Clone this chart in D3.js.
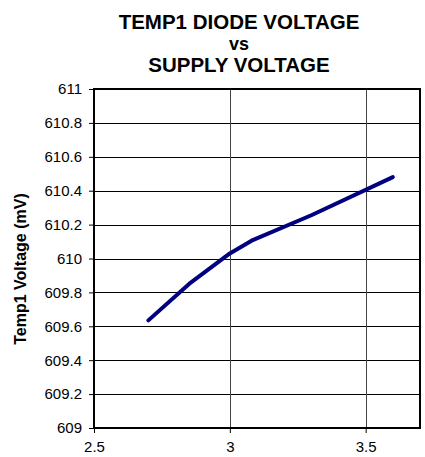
<!DOCTYPE html>
<html>
<head>
<meta charset="utf-8">
<script src="https://cdn.jsdelivr.net/npm/d3@7"></script>
<style>
  body { margin: 0; background: #fff; }
  svg { display: block; font-family: "Liberation Sans", Arial, sans-serif; }
</style>
</head>
<body>
<svg width="425" height="457"></svg>
<script>
// supply voltage (V) and diode voltage (mV)
var supply = [2.7, 2.85, 3.0, 3.08, 3.3, 3.6];
var diode = [609.635, 609.85, 610.03, 610.105, 610.255, 610.48];
var xTicks = [2.5, 3, 3.5];
var yTicks = [609, 609.2, 609.4, 609.6, 609.8, 610, 610.2, 610.4, 610.6, 610.8, 611];
var titleLines = ["TEMP1 DIODE VOLTAGE", "vs", "SUPPLY VOLTAGE"];

var svg = d3.select('svg');
// plot box (named so they don't clash with window.top)
var plotL = 94, plotR = 420, plotT = 89, plotB = 428;

var x = d3.scaleLinear().domain([2.5, 3.7]).range([plotL, plotR]);
var y = d3.scaleLinear().domain([609, 611]).range([plotB, plotT]);

// title
svg.selectAll('text.title').data(titleLines)
  .enter().append('text')
  .attr('class', 'title')
  .attr('x', 239)
  .attr('y', function(d, i) { return 29 + i * 21.3; })
  .attr('text-anchor', 'middle')
  .attr('font-weight', 'bold')
  .attr('font-size', function(d, i) { return i == 1 ? 18 : 20.5; })
  .text(function(d) { return d; });

// horizontal grid
svg.append('g').selectAll('line').data(yTicks)
  .enter().append('line')
  .attr('x1', plotL).attr('x2', plotR)
  .attr('y1', function(d) { return Math.round(y(d)) + 0.5; })
  .attr('y2', function(d) { return Math.round(y(d)) + 0.5; })
  .attr('stroke', '#000').attr('stroke-width', 1);

// vertical grid
svg.append('g').selectAll('line').data(xTicks.slice(1))
  .enter().append('line')
  .attr('y1', plotT).attr('y2', plotB)
  .attr('x1', function(d) { return Math.round(x(d)) + 0.5; })
  .attr('x2', function(d) { return Math.round(x(d)) + 0.5; })
  .attr('stroke', '#444').attr('stroke-width', 1);

// axes
var yAxis = d3.axisLeft(y).tickValues(yTicks).tickSize(5).tickPadding(7)
  .tickFormat(function(d) { return String(+d.toFixed(1)); });
var gy = svg.append('g').attr('transform', 'translate(' + plotL + ',0)').call(yAxis);
var xAxis = d3.axisBottom(x).tickValues(xTicks).tickSize(5).tickPadding(8)
  .tickFormat(function(d) { return d; });
var gx = svg.append('g').attr('transform', 'translate(0,' + plotB + ')').call(xAxis);

[gy, gx].forEach(function(g) {
  g.select('.domain').remove();
  g.selectAll('text').attr('font-size', 15).attr('fill', '#000')
    .attr('font-family', '"Liberation Sans", Arial, sans-serif');
  g.selectAll('line').attr('stroke', '#000');
});

// frame
svg.append('rect')
  .attr('x', plotL).attr('y', plotT)
  .attr('width', plotR - plotL).attr('height', plotB - plotT)
  .attr('fill', 'none').attr('stroke', '#000').attr('stroke-width', 2);

// axis title
svg.append('text')
  .attr('transform', 'translate(26,269) rotate(-90)')
  .attr('text-anchor', 'middle')
  .attr('font-weight', 'bold')
  .attr('font-size', 16)
  .text('Temp1 Voltage (mV)');

// the curve
var line = d3.line()
  .x(function(d) { return x(d[0]); })
  .y(function(d) { return y(d[1]); });

svg.append('path')
  .datum(d3.zip(supply, diode))
  .attr('d', line)
  .attr('fill', 'none')
  .attr('stroke', '#000080')
  .attr('stroke-width', 4)
  .attr('stroke-linecap', 'round')
  .attr('stroke-linejoin', 'round');
</script>
</body>
</html>
